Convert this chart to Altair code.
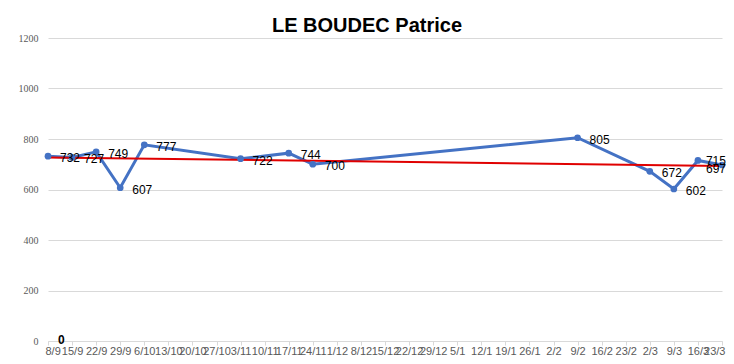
import json
import altair as alt
import pandas as pd

title_text = "LE BOUDEC Patrice"
categories = ["8/9", "15/9", "22/9", "29/9", "6/10", "13/10", "20/10", "27/10",
              "3/11", "10/11", "17/11", "24/11", "1/12", "8/12", "15/12", "22/12",
              "29/12", "5/1", "12/1", "19/1", "26/1", "2/2", "9/2", "16/2", "23/2",
              "2/3", "9/3", "16/3", "23/3"]
point_dates = ["8/9", "15/9", "22/9", "29/9", "6/10", "3/11", "17/11", "24/11",
               "9/2", "2/3", "9/3", "16/3", "23/3"]
point_values = [732, 727, 749, 607, 777, 722, 744, 700, 805, 672, 602, 715, 697]
zero_dates = ["8/9"]
zero_values = [0]
y_ticks = [0, 200, 400, 600, 800, 1000, 1200]

df = pd.DataFrame({
    "date": point_dates,
    "idx": [categories.index(d) for d in point_dates],
    "value": point_values,
})
df["label"] = df["value"].astype(str)
df0 = pd.DataFrame({
    "idx": [categories.index(d) for d in zero_dates],
    "value": zero_values,
})
df0["label"] = df0["value"].astype(str)

label_expr = json.dumps(categories) + "[round(datum.value)]"
n = len(categories) - 1

x_axis = alt.Axis(values=list(range(len(categories))), labelExpr=label_expr,
                  title=None, grid=False, domainColor="#d9d9d9",
                  tickColor="#d9d9d9", tickSize=4, labelOverlap=False,
                  labelFlush=True, labelFlushOffset=3, labelBound=False,
                  labelFontSize=11, labelColor="#595959", labelPadding=0,
                  labelFont="Liberation Sans")
x_enc = alt.X("idx:Q", scale=alt.Scale(domain=[0, n], nice=False, zero=False),
              axis=x_axis)
y_enc = alt.Y("value:Q", scale=alt.Scale(domain=[0, 1200], nice=False),
              axis=alt.Axis(values=y_ticks, title=None, domain=False, ticks=False,
                            format="d",
                            gridColor="#d9d9d9", labelFontSize=10, labelColor="#595959",
                            labelPadding=10, labelFont="Liberation Sans Narrow"))

text_style = dict(baseline="middle", fontSize=12, color="#000000", font="Liberation Sans")

base = alt.Chart(df)
line = base.mark_line(color="#4472C4", strokeWidth=3).encode(x=x_enc, y=y_enc)
pts = base.mark_circle(color="#4472C4", size=45, opacity=1).encode(x=x_enc, y=y_enc)
labels = base.transform_filter(f"datum.idx < {n - 1}").mark_text(
    align="left", dx=12, dy=2, **text_style).encode(x=x_enc, y=y_enc, text="label:N")
label_prev = base.transform_filter(f"datum.idx == {n - 1}").mark_text(
    align="left", dx=8, dy=1, **text_style).encode(x=x_enc, y=y_enc, text="label:N")
label_last = base.transform_filter(f"datum.idx == {n}").mark_text(
    align="left", dx=-16, dy=4, **text_style).encode(x=x_enc, y=y_enc, text="label:N")
trend = base.transform_regression("idx", "value", extent=[0, n]).mark_line(
    color="#E00000", strokeWidth=2).encode(x=x_enc, y=y_enc)
zero_lbl = alt.Chart(df0).mark_text(align="left", baseline="middle", dx=10, dy=-1,
                                    fontSize=12, fontWeight="bold", color="#000000",
                                    font="Liberation Sans").encode(
    x=x_enc, y=y_enc, text="label:N")

chart = alt.layer(line, trend, pts, labels, label_prev, label_last, zero_lbl).properties(
    width=674, height=303,
    title=alt.TitleParams(title_text, fontSize=20, fontWeight="bold",
                          font="Liberation Sans", color="#000000", anchor="middle",
                          offset=0, dy=3, dx=-18),
    autosize=alt.AutoSizeParams(type="none"),
    padding={"left": 40, "top": 30, "right": 4, "bottom": 15},
).configure_view(stroke=None).configure_axisX(labelOverlap=False)

chart.save("out.html", embed_options={"renderer": "svg", "actions": False})
